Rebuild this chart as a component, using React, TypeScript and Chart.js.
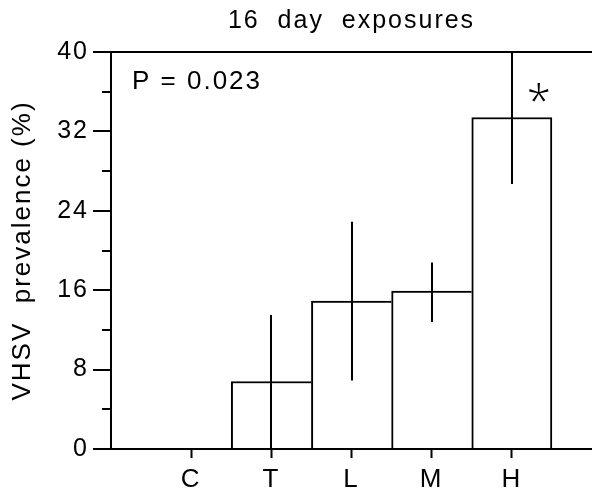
import React, { useEffect, useRef } from 'react';
import { Chart, registerables } from 'chart.js';

Chart.register(...registerables);

const categories = ['C', 'T', 'L', 'M', 'H'];
const prevalence = [0, 6.8, 14.9, 15.9, 33.4];
const errorLow: (number | null)[] = [null, 0, 6.9, 12.8, 26.7];
const errorHigh: (number | null)[] = [null, 13.5, 22.9, 18.8, 40];
const yMinorTicks = [4, 12, 20, 28, 36];
const titleText = '16  day  exposures';
const yTitleText = 'VHSV  prevalence (%)';
const pText = 'P = 0.023';
const pValue = 37.0;
const starText = '*';
const starCategory = 'H';
const starValue = 35.9;

const FONT = '"Liberation Sans", Arial, Helvetica, sans-serif';

export default function App() {
  const ref = useRef<HTMLCanvasElement | null>(null);

  useEffect(() => {
    if (!ref.current) return;
    const labels = ['', ...categories, ''];
    const data = [null, ...prevalence, null];

    const decor = {
      id: 'decor',
      beforeLayout(chart: any) {
        chart.ctx.letterSpacing = '2px';
      },
      beforeDraw(chart: any) {
        chart.ctx.letterSpacing = '2px';
      },
      afterDatasetsDraw(chart: any) {
        const { ctx, chartArea } = chart;
        const x = chart.scales.x;
        const y = chart.scales.y;
        ctx.save();
        ctx.strokeStyle = '#000';
        ctx.lineWidth = 2;
        ctx.lineCap = 'butt';
        categories.forEach((_, i) => {
          const lo = errorLow[i];
          const hi = errorHigh[i];
          if (lo == null || hi == null) return;
          const px = Math.round(x.getPixelForValue(i + 1));
          ctx.beginPath();
          ctx.moveTo(px, y.getPixelForValue(lo));
          ctx.lineTo(px, y.getPixelForValue(hi));
          ctx.stroke();
        });
        yMinorTicks.forEach((v) => {
          const py = Math.round(y.getPixelForValue(v));
          ctx.beginPath();
          ctx.moveTo(chartArea.left - 9, py);
          ctx.lineTo(chartArea.left, py);
          ctx.stroke();
        });
        ctx.fillStyle = '#000';
        ctx.font = `26px ${FONT}`;
        ctx.textAlign = 'left';
        ctx.textBaseline = 'middle';
        ctx.letterSpacing = '2px';
        ctx.fillText(pText, chartArea.left + 21, y.getPixelForValue(pValue));

        ctx.letterSpacing = '0px';
        ctx.font = `300 44px "Open Sans", ${FONT}`;
        ctx.textAlign = 'center';
        ctx.textBaseline = 'alphabetic';
        const m = ctx.measureText(starText);
        const cy = y.getPixelForValue(starValue);
        const base = cy + (m.actualBoundingBoxAscent - m.actualBoundingBoxDescent) / 2;
        const sx = x.getPixelForValue(categories.indexOf(starCategory) + 1) + 27;
        ctx.fillText(starText, sx, base);
        ctx.restore();
      },
      afterDraw(chart: any) {
        chart.ctx.letterSpacing = '0px';
      },
    };

    const lastIdx = prevalence.length;
    const chart = new Chart(ref.current, {
      type: 'bar',
      data: {
        labels,
        datasets: [
          {
            data,
            backgroundColor: '#ffffff',
            borderColor: '#000000',
            borderWidth: (c: any) => {
              const i = c.dataIndex;
              const v = data[i] ?? 0;
              const next = data[i + 1];
              const right = i === lastIdx || next == null || next < v ? 2 : 0;
              return { top: 2, left: 2, right, bottom: 0 };
            },
            borderSkipped: false,
            barPercentage: 1,
            categoryPercentage: 1,
          } as any,
        ],
      },
      options: {
        animation: false,
        responsive: false,
        layout: { padding: { left: 0, right: 0, top: 0, bottom: 0 } },
        plugins: {
          legend: { display: false },
          tooltip: { enabled: false },
          title: {
            display: true,
            text: titleText,
            color: '#000',
            fullSize: false,
            font: { family: FONT, size: 25, weight: 'normal' },
            padding: { top: 6, bottom: 16 },
          },
        },
        scales: {
          x: {
            type: 'category',
            offset: false,
            grid: {
              display: true,
              drawOnChartArea: false,
              drawTicks: true,
              offset: false,
              tickLength: 9,
              tickWidth: 2,
              tickColor: (c: any) => (labels[c.index] ? '#000' : 'rgba(0,0,0,0)'),
            },
            border: { display: true, color: '#000', width: 2 },
            ticks: {
              color: '#000',
              font: { family: FONT, size: 26 },
              padding: 6,
              autoSkip: false,
              maxRotation: 0,
            },
            afterFit: (s: any) => {
              s.height = 52;
              s.paddingLeft = 0;
              s.paddingRight = 0;
            },
          },
          y: {
            type: 'linear',
            min: 0,
            max: 40,
            ticks: {
              stepSize: 8,
              color: '#000',
              font: { family: FONT, size: 25 },
              padding: 4,
            },
            grid: {
              drawOnChartArea: true,
              drawTicks: true,
              color: (c: any) => (c.tick && c.tick.value === 40 ? '#000' : 'rgba(0,0,0,0)'),
              lineWidth: 2,
              tickLength: 18,
              tickWidth: 2,
              tickColor: '#000',
            },
            border: { display: true, color: '#000', width: 2 },
            title: {
              display: true,
              text: yTitleText,
              color: '#000',
              font: { family: FONT, size: 26 },
              padding: { top: 7, bottom: 0 },
            },
            afterFit: (s: any) => {
              s.width = 111;
            },
          },
        },
      } as any,
      plugins: [decor],
    });
    return () => chart.destroy();
  }, []);

  return (
    <div style={{ position: 'absolute', left: 0, top: 0, width: 592, height: 501 }}>
      <canvas ref={ref} width={592} height={501} style={{ display: 'block' }} />
    </div>
  );
}
